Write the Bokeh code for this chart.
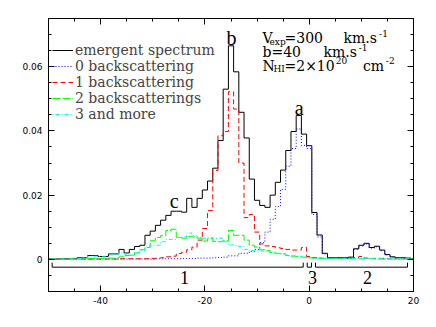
import numpy as np
from bokeh.plotting import figure
from bokeh.models import LinearAxis, FixedTicker, CustomJSTickFormatter, Label, ColumnDataSource
from bokeh.core.properties import value
from bokeh.embed import file_html
from bokeh.resources import INLINE

# ---------------- data ----------------
x_bins = list(range(-50, 21))

emergent = [
    0.0001, 0.0001, 0.0001, 0.0002, 0.0002, 0.0003, 0.0005, 0.0005, 0.0012, 0.0012,
    0.0009, 0.0009, 0.0017, 0.0017, 0.0031, 0.0020, 0.0031, 0.0040, 0.0044, 0.0075,
    0.0088, 0.0106, 0.0122, 0.0137, 0.0150, 0.0150, 0.0147, 0.0190, 0.0162, 0.0190,
    0.0216, 0.0244, 0.0284, 0.0370, 0.0530, 0.0665, 0.0584, 0.0458, 0.0378, 0.0250,
    0.0184, 0.0168, 0.0162, 0.0200, 0.0240, 0.0278, 0.0339, 0.0398, 0.0448, 0.0390,
    0.0354, 0.0146, 0.0076, 0.0019, 0.0005, 0.0005, 0.0005, 0.0005, 0.0007, 0.0033,
    0.0044, 0.0050, 0.0037, 0.0041, 0.0029, 0.0015, 0.0008, 0.0005, 0.0005, 0.0004, 0.0002,
]
zero_back = [
    0.0001, 0.0001, 0.0001, 0.0001, 0.0001, 0.0001, 0.0001, 0.0001, 0.0001, 0.0001,
    0.0001, 0.0001, 0.0001, 0.0001, 0.0001, 0.0001, 0.0001, 0.0001, 0.0001, 0.0001,
    0.0001, 0.0002, 0.0002, 0.0002, 0.0002, 0.0002, 0.0003, 0.0003, 0.0003, 0.0004,
    0.0004, 0.0004, 0.0005, 0.0006, 0.0007, 0.0011, 0.0011, 0.0019, 0.0019, 0.0025,
    0.0031, 0.0052, 0.0085, 0.0125, 0.0165, 0.0218, 0.0290, 0.0345, 0.0406, 0.0355,
    0.0345, 0.0140, 0.0070, 0.0017, 0.0004, 0.0004, 0.0004, 0.0004, 0.0005, 0.0031,
    0.0042, 0.0048, 0.0035, 0.0039, 0.0027, 0.0014, 0.0007, 0.0004, 0.0004, 0.0003, 0.0001,
]
one_back = [
    0.0001, 0.0001, 0.0001, 0.0001, 0.0001, 0.0001, 0.0001, 0.0001, 0.0001, 0.0001,
    0.0001, 0.0001, 0.0001, 0.0001, 0.0002, 0.0002, 0.0002, 0.0002, 0.0002, 0.0002,
    0.0003, 0.0004, 0.0005, 0.0008, 0.0010, 0.0018, 0.0022, 0.0030, 0.0038, 0.0060,
    0.0096, 0.0152, 0.0277, 0.0385, 0.0398, 0.0522, 0.0468, 0.0300, 0.0130, 0.0140,
    0.0085, 0.0048, 0.0042, 0.0040, 0.0036, 0.0034, 0.0031, 0.0029, 0.0029, 0.0037,
    0.0009, 0.0006, 0.0004, 0.0003, 0.0003, 0.0003, 0.0003, 0.0003, 0.0003, 0.0006,
    0.0009, 0.0004, 0.0003, 0.0003, 0.0003, 0.0002, 0.0002, 0.0002, 0.0002, 0.0002, 0.0001,
]
two_back = [
    0.0001, 0.0001, 0.0001, 0.0001, 0.0002, 0.0002, 0.0002, 0.0002, 0.0003, 0.0003,
    0.0003, 0.0004, 0.0004, 0.0004, 0.0008, 0.0012, 0.0013, 0.0020, 0.0030, 0.0037,
    0.0058, 0.0068, 0.0074, 0.0090, 0.0094, 0.0068, 0.0066, 0.0072, 0.0070, 0.0066,
    0.0057, 0.0064, 0.0056, 0.0055, 0.0058, 0.0090, 0.0075, 0.0075, 0.0060, 0.0044,
    0.0038, 0.0030, 0.0028, 0.0021, 0.0019, 0.0017, 0.0012, 0.0010, 0.0009, 0.0007,
    0.0005, 0.0004, 0.0003, 0.0003, 0.0002, 0.0002, 0.0002, 0.0002, 0.0002, 0.0002,
    0.0002, 0.0002, 0.0002, 0.0001, 0.0001, 0.0001, 0.0001, 0.0001, 0.0001, 0.0001, 0.0001,
]
three_more = [
    0.0001, 0.0001, 0.0001, 0.0001, 0.0001, 0.0001, 0.0003, 0.0005, 0.0010, 0.0010,
    0.0008, 0.0008, 0.0014, 0.0016, 0.0022, 0.0016, 0.0013, 0.0022, 0.0027, 0.0039,
    0.0044, 0.0044, 0.0055, 0.0062, 0.0062, 0.0068, 0.0070, 0.0082, 0.0074, 0.0068,
    0.0066, 0.0068, 0.0066, 0.0066, 0.0055, 0.0045, 0.0043, 0.0040, 0.0031, 0.0027,
    0.0027, 0.0026, 0.0024, 0.0019, 0.0018, 0.0017, 0.0011, 0.0011, 0.0010, 0.0007,
    0.0005, 0.0004, 0.0004, 0.0003, 0.0003, 0.0003, 0.0003, 0.0003, 0.0003, 0.0003,
    0.0003, 0.0003, 0.0003, 0.0002, 0.0002, 0.0002, 0.0002, 0.0002, 0.0002, 0.0002, 0.0001,
]

series_names = ["emergent spectrum", "0 backscattering", "1 backscattering",
                "2 backscatterings", "3 and more"]

x_tick_values = [-40, -20, 0, 20]
x_tick_labels = ["-40", "-20", "0", "20"]
y_tick_values = [0, 0.02, 0.04, 0.06]
y_tick_labels = ["0", "0.02", "0.04", "0.06"]

peak_labels = ["a", "b", "c"]
peak_x = [-1.9, -14.9, -25.9]
peak_y = [0.0470, 0.0690, 0.0183]

region_labels = ["1", "3", "2"]
region_start = [-49.3, -0.38, 1.21]
region_end = [-1.15, 0.44, 18.85]
region_label_x = [-23.9, 0.63, 11.2]
region_line_y = -0.00243
region_tick_y = -0.0010
region_label_y = -0.0055

info_text = ["V", "=300", "km.s", "b=40", "km.s", "N", "=2\u00d710", "cm"]
info_x = [-8.96, -4.74, 6.58, -8.96, 2.74, -8.96, -4.74, 10.3]
info_y = [0.0689, 0.0689, 0.0689, 0.0647, 0.0647, 0.0603, 0.0603, 0.0603]
sub_text = ["exp", "-1", "-1", "HI", "20", "-2"]
sub_x = [-7.62, 13.4, 9.5, -6.85, 5.1, 14.7]
sub_y = [0.0678, 0.0702, 0.0661, 0.0592, 0.0619, 0.0619]

# ---------------- styles ----------------
colors = ["black", "#0000ff", "#ff0000", "#00ff00", "#00ffff"]
dashes = ["solid", "1 2", "5 3", "8 2", "1 2 4 2"]
SERIF = "DejaVu Serif"

p = figure(width=436, height=327, x_range=(-50, 20), y_range=(-0.01, 0.075),
           output_backend="svg", toolbar_location=None,
           min_border_left=48, min_border_right=23, min_border_top=18, min_border_bottom=36)
p.grid.visible = False
p.outline_line_color = "black"
p.background_fill_color = "white"

x_ticker = FixedTicker(ticks=x_tick_values, minor_ticks=list(np.arange(-50, 21, 5)))
y_ticker = FixedTicker(ticks=y_tick_values, minor_ticks=[round(v, 4) for v in np.arange(-0.01, 0.0751, 0.005)])
x_fmt = CustomJSTickFormatter(args=dict(vals=x_tick_values, labs=x_tick_labels), code="""
for (let i = 0; i < vals.length; i++) { if (Math.abs(vals[i] - tick) < 1e-9) return labs[i]; }
return '';""")
y_fmt = CustomJSTickFormatter(args=dict(vals=y_tick_values, labs=y_tick_labels), code="""
for (let i = 0; i < vals.length; i++) { if (Math.abs(vals[i] - tick) < 1e-9) return labs[i]; }
return '';""")


def style_axis(ax, ticker, fmt, show_labels):
    ax.ticker = ticker
    ax.major_tick_in = 6
    ax.major_tick_out = 0
    ax.minor_tick_in = 3
    ax.minor_tick_out = 0
    ax.axis_line_color = "black"
    ax.major_tick_line_color = "black"
    ax.minor_tick_line_color = "black"
    if show_labels:
        ax.formatter = fmt
        ax.major_label_text_font = "DejaVu Sans"
        ax.major_label_text_font_size = "9px"
        ax.major_label_text_color = "black"
        ax.major_label_standoff = 6
    else:
        ax.major_label_text_color = None
        ax.major_label_standoff = 0


style_axis(p.xaxis[0], x_ticker, x_fmt, True)
style_axis(p.yaxis[0], y_ticker, y_fmt, True)
p.xaxis[0].major_label_standoff = 5
top_ax = LinearAxis()
style_axis(top_ax, x_ticker, x_fmt, False)
p.add_layout(top_ax, "above")
right_ax = LinearAxis()
style_axis(right_ax, y_ticker, y_fmt, False)
p.add_layout(right_ax, "right")

# ---------------- histograms ----------------
all_series = [emergent, zero_back, one_back, two_back, three_more]
for name, vals, col, dash in zip(series_names, all_series, colors, dashes):
    src = ColumnDataSource(dict(x=x_bins, y=vals))
    p.step(x="x", y="y", source=src, mode="center", line_color=col, line_dash=dash,
           line_width=1, legend_label=name)

leg = p.legend[0]
leg.location = (0, 165.5)
leg.border_line_alpha = 0
leg.background_fill_alpha = 0
leg.padding = 4
leg.spacing = 0
leg.margin = 0
leg.glyph_width = 21
leg.glyph_height = 16
leg.label_height = 16
leg.label_standoff = 2
leg.label_text_font = SERIF
leg.label_text_font_size = "14px"
leg.label_text_baseline = "alphabetic"

# ---------------- annotations ----------------
p.text(x=peak_x, y=peak_y, text=peak_labels, text_font=value("Liberation Serif"),
       text_font_size=value("20px"), text_align="center", text_baseline="alphabetic", text_color="black")

p.segment(x0=region_start, y0=[region_line_y] * 3, x1=region_end, y1=[region_line_y] * 3,
          line_color="black", line_width=1)
p.segment(x0=region_start + region_end, y0=[region_line_y] * 6,
          x1=region_start + region_end, y1=[region_tick_y] * 6, line_color="black", line_width=1)
p.text(x=region_label_x, y=[region_label_y] * 3, text=region_labels,
       text_font=value("Liberation Serif"), text_font_size=value("18px"),
       text_align="center", text_baseline="alphabetic", text_color="black")

p.text(x=info_x, y=info_y, text=info_text, text_font=value(SERIF), text_font_size=value("14px"),
       text_align="left", text_baseline="alphabetic", text_color="black")
p.text(x=sub_x, y=sub_y, text=sub_text, text_font=value(SERIF), text_font_size=value("9px"),
       text_align="left", text_baseline="alphabetic", text_color="black")

p.add_layout(Label(x=-39, y=145, x_units="screen", y_units="screen", text="P(x)", angle=np.pi / 2,
                   text_align="center", text_baseline="middle", text_font=SERIF,
                   text_font_size="14px", text_color="black"))
p.add_layout(Label(x=182, y=-19, x_units="screen", y_units="screen", text="x",
                   text_align="center", text_baseline="middle", text_font=SERIF,
                   text_font_size="14px", text_color="black"))

open("out.html", "w").write(file_html(p, INLINE))
